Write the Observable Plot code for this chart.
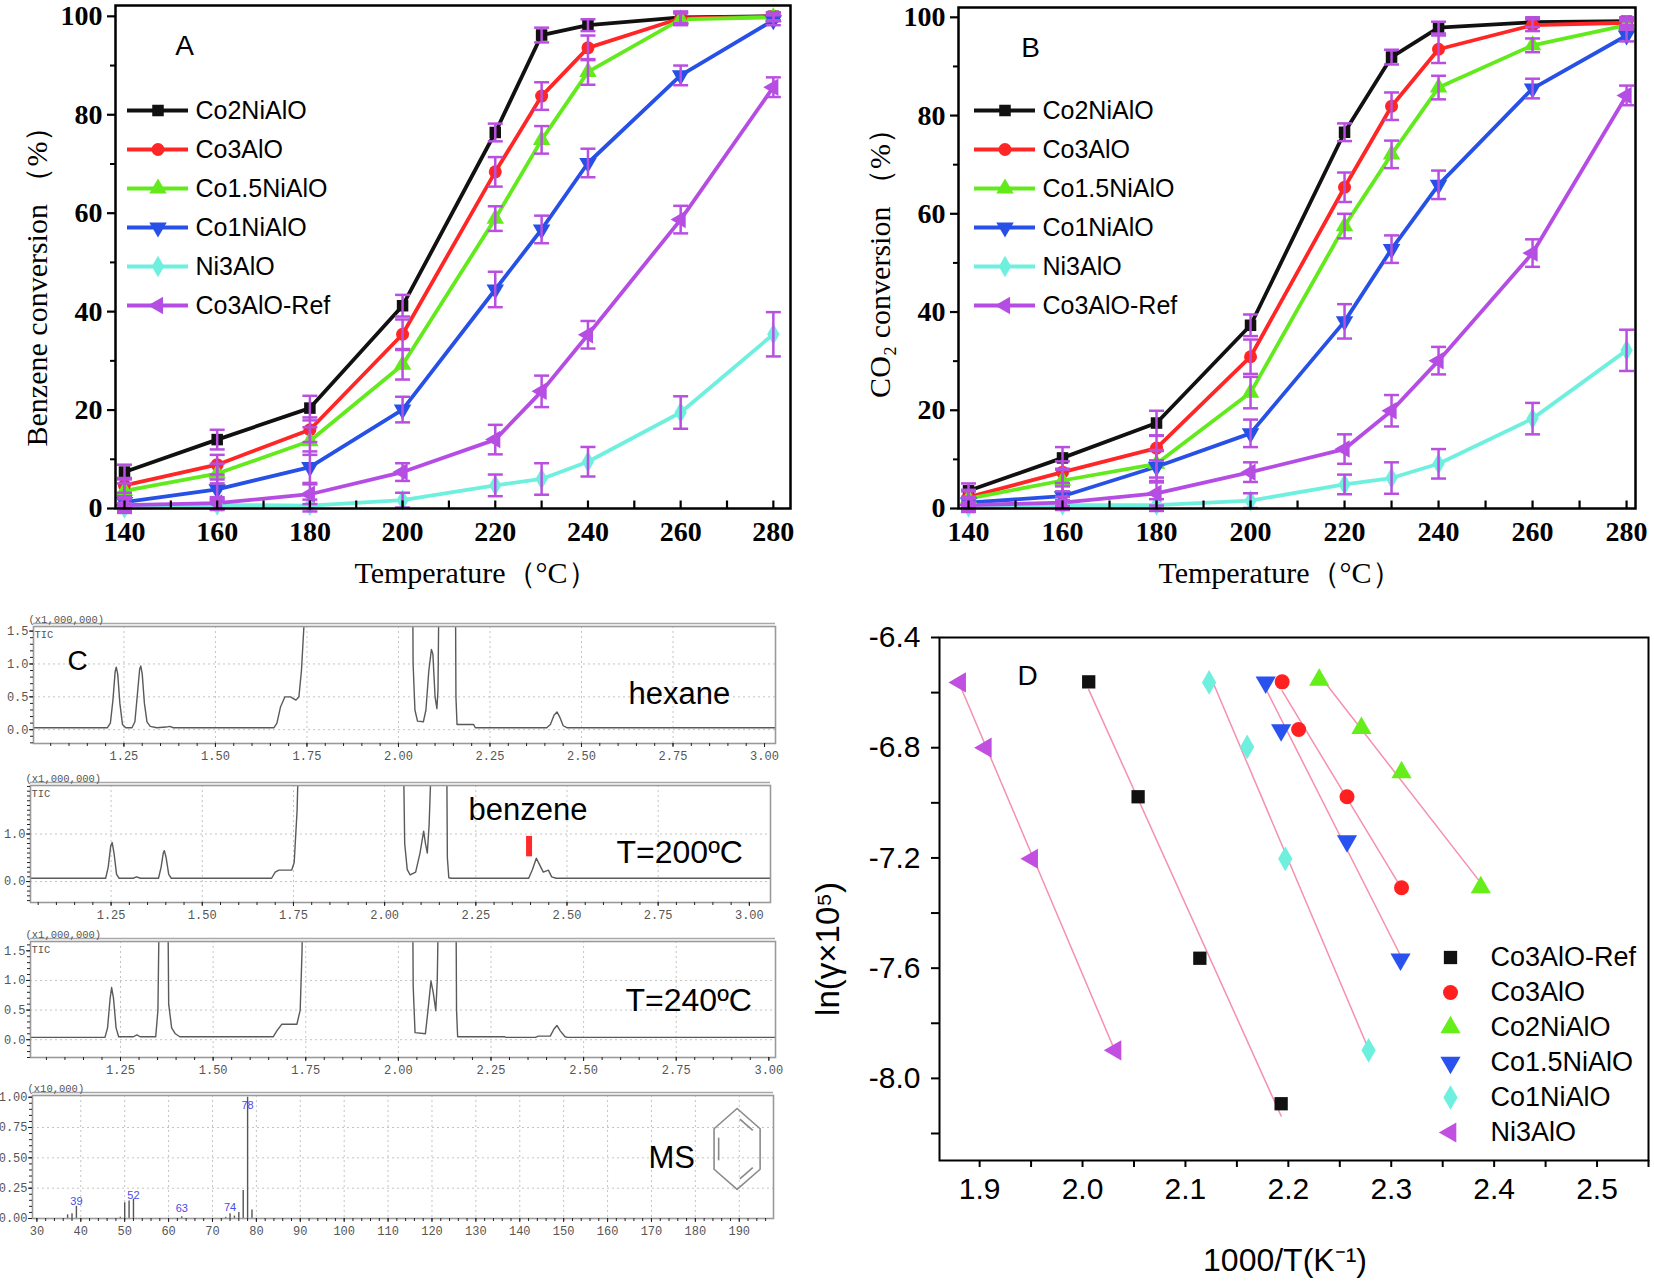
<!DOCTYPE html>
<html><head><meta charset="utf-8">
<script src="https://cdn.jsdelivr.net/npm/d3@7"></script>
<script src="https://cdn.jsdelivr.net/npm/@observablehq/plot@0.6"></script>
<style>
html,body{margin:0;padding:0;background:#fff;}
#fig{position:relative;width:1654px;height:1286px;overflow:hidden;background:#fff;}
#fig svg{position:absolute;overflow:visible;max-width:none;}
</style></head><body><div id="fig"></div>
<script>
// ---------- Panels A / B data ----------
const temps = [140,160,180,200,220,230,240,260,280];
const abNames = ["Co2NiAlO","Co3AlO","Co1.5NiAlO","Co1NiAlO","Ni3AlO","Co3AlO-Ref"];
const abColors = ["#111111","#ff2626","#62ea1c","#2750e6","#6ff0df","#b54de4"];
const errColor = "#b84fe0";

const benzene_Co2NiAlO  = [7.4,14.0,20.4,41.2,76.4,96.2,98.2,99.8,100];
const benzene_Co3AlO    = [4.7,8.9,16.0,35.4,68.4,83.8,93.6,99.6,100];
const benzene_Co15NiAlO = [3.6,7.1,13.7,29.2,58.9,74.9,88.7,99.4,99.8];
const benzene_Co1NiAlO  = [1.3,3.9,8.4,20.1,44.5,56.7,70.2,88.0,99.2];
const benzene_Ni3AlO    = [0.1,0.7,0.6,1.7,4.7,6.0,9.5,19.5,35.4];
const benzene_Co3AlORef = [0.7,1.1,2.9,7.4,14.0,23.8,35.3,58.7,85.6];

const benzeneErr_Co2NiAlO  = [1.5,2.0,2.5,2.2,1.8,1.5,1.2,1.2,0.8];
const benzeneErr_Co3AlO    = [1.5,2.0,2.5,3.0,3.0,2.8,2.5,1.2,0.8];
const benzeneErr_Co15NiAlO = [1.5,2.0,2.8,3.0,2.5,2.8,2.6,1.2,0.8];
const benzeneErr_Co1NiAlO  = [1.2,2.0,3.2,2.6,3.6,2.8,2.9,2.0,1.0];
const benzeneErr_Ni3AlO    = [1.0,1.0,1.2,1.5,2.2,3.2,3.0,3.3,4.5];
const benzeneErr_Co3AlORef = [1.2,1.2,2.0,1.8,3.0,3.2,2.8,2.8,2.0];

const co2_Co2NiAlO  = [3.6,10.3,17.4,37.3,76.6,91.9,97.9,99.0,99.2];
const co2_Co3AlO    = [2.3,7.4,12.3,30.9,65.4,81.9,93.5,98.4,98.9];
const co2_Co15NiAlO = [2.0,5.7,9.1,23.6,57.5,72.1,85.7,94.3,98.4];
const co2_Co1NiAlO  = [1.2,2.5,8.5,15.3,38.1,52.8,65.9,85.5,96.3];
const co2_Ni3AlO    = [0.3,0.7,0.7,1.6,4.9,6.2,9.1,18.3,32.2];
const co2_Co3AlORef = [0.7,1.2,3.1,7.4,12.1,19.9,30.1,52.0,84.1];

const co2Err_Co2NiAlO  = [1.5,2.2,2.5,2.2,1.8,1.5,1.2,1.0,0.8];
const co2Err_Co3AlO    = [1.5,2.2,2.5,3.5,3.0,2.8,2.8,1.2,0.8];
const co2Err_Co15NiAlO = [1.5,2.2,2.8,3.2,2.5,2.8,2.4,1.4,0.8];
const co2Err_Co1NiAlO  = [1.2,2.0,3.2,2.8,3.5,2.8,2.9,2.0,1.2];
const co2Err_Ni3AlO    = [1.0,1.0,1.2,1.5,2.0,3.2,3.0,3.2,4.2];
const co2Err_Co3AlORef = [1.2,1.2,2.5,2.0,3.0,3.2,2.8,2.8,2.0];

const abXTicks = [140,160,180,200,220,240,260,280];
const abXMinor = [150,170,190,210,230,250,270];
const abYTicks = [0,20,40,60,80,100];
const abYMinor = [10,30,50,70,90];

// ---------- Panel D data ----------
const dNames  = ["Co3AlO-Ref","Co3AlO","Co2NiAlO","Co1.5NiAlO","Co1NiAlO","Ni3AlO"];
const dColors = ["#111111","#ff2020","#66ee1a","#2a52ee","#6ff0df","#c14fe0"];
const dX_Co3AlORef = [2.006,2.054,2.114,2.193];
const dY_Co3AlORef = [-6.561,-6.978,-7.564,-8.092];
const dX_Co3AlO    = [2.194,2.210,2.257,2.310];
const dY_Co3AlO    = [-6.561,-6.734,-6.978,-7.308];
const dX_Co2NiAlO  = [2.230,2.271,2.310,2.387];
const dY_Co2NiAlO  = [-6.554,-6.729,-6.890,-7.307];
const dX_Co15NiAlO = [2.178,2.193,2.257,2.309];
const dY_Co15NiAlO = [-6.563,-6.736,-7.139,-7.568];
const dX_Co1NiAlO  = [2.123,2.160,2.197,2.278];
const dY_Co1NiAlO  = [-6.563,-6.797,-7.203,-7.898];
const dX_Ni3AlO    = [1.881,1.906,1.951,2.032];
const dY_Ni3AlO    = [-6.563,-6.800,-7.203,-7.898];
const dXTicks = [1.9,2.0,2.1,2.2,2.3,2.4,2.5];
const dXMinor = [1.95,2.05,2.15,2.25,2.35,2.45,2.55];
const dYTicks = [-6.4,-6.8,-7.2,-7.6,-8.0];
const dYMinor = [-6.6,-7.0,-7.4,-7.8,-8.2];

// ---------- Panel C data (retention time min, intensity x1e6) ----------
const traceHexane = [[1.003,0.03],[1.205,0.03],[1.213,0.1],[1.220,0.45],[1.226,0.88],[1.229,0.95],[1.233,0.85],[1.239,0.4],[1.246,0.08],[1.255,0.03],[1.272,0.03],[1.280,0.12],[1.287,0.55],[1.293,0.92],[1.296,0.97],[1.300,0.85],[1.306,0.4],[1.313,0.12],[1.322,0.05],[1.34,0.03],[1.365,0.04],[1.375,0.05],[1.385,0.03],[1.660,0.03],[1.668,0.1],[1.678,0.35],[1.690,0.5],[1.705,0.5],[1.720,0.45],[1.728,0.5],[1.735,0.9],[1.742,1.6],[1.746,3.0],[2.038,3.0],[2.040,1.0],[2.045,0.3],[2.052,0.13],[2.068,0.12],[2.075,0.3],[2.083,0.9],[2.090,1.22],[2.094,1.15],[2.100,0.5],[2.105,0.32],[2.108,0.6],[2.112,3.0],[2.155,3.0],[2.157,0.5],[2.160,0.08],[2.205,0.08],[2.21,0.03],[2.405,0.03],[2.415,0.08],[2.425,0.22],[2.433,0.27],[2.440,0.2],[2.450,0.06],[2.46,0.03],[3.03,0.03]];
const traceT200 = [[1.029,0.07],[1.235,0.07],[1.242,0.3],[1.249,0.75],[1.253,0.82],[1.258,0.6],[1.265,0.15],[1.272,0.07],[1.31,0.07],[1.32,0.1],[1.33,0.07],[1.38,0.07],[1.387,0.3],[1.393,0.6],[1.396,0.65],[1.401,0.5],[1.408,0.15],[1.415,0.07],[1.690,0.07],[1.700,0.2],[1.71,0.24],[1.745,0.24],[1.752,0.4],[1.760,1.5],[1.765,3.0],[2.051,3.0],[2.055,0.8],[2.062,0.25],[2.07,0.14],[2.085,0.2],[2.097,0.6],[2.107,1.06],[2.112,0.8],[2.117,0.6],[2.122,1.2],[2.13,3.0],[2.170,3.0],[2.172,0.5],[2.176,0.08],[2.183,0.07],[2.395,0.07],[2.405,0.25],[2.416,0.49],[2.425,0.35],[2.435,0.2],[2.449,0.24],[2.458,0.1],[2.47,0.07],[3.058,0.07]];
const traceT240 = [[1.007,0.04],[1.208,0.04],[1.215,0.2],[1.222,0.7],[1.226,0.88],[1.231,0.7],[1.238,0.2],[1.245,0.05],[1.285,0.05],[1.294,0.08],[1.303,0.05],[1.345,0.05],[1.351,0.5],[1.356,3.0],[1.377,3.0],[1.380,0.6],[1.388,0.2],[1.398,0.1],[1.41,0.05],[1.662,0.05],[1.672,0.15],[1.685,0.26],[1.726,0.26],[1.735,0.5],[1.740,1.5],[1.743,3.0],[2.038,3.0],[2.040,0.9],[2.045,0.12],[2.073,0.1],[2.080,0.5],[2.088,0.99],[2.094,0.8],[2.101,0.49],[2.105,1.0],[2.110,3.0],[2.155,3.0],[2.157,0.5],[2.160,0.05],[2.287,0.05],[2.29,0.04],[2.37,0.04],[2.378,0.06],[2.41,0.06],[2.42,0.18],[2.428,0.24],[2.437,0.15],[2.45,0.05],[2.457,0.04],[3.018,0.04]];
const benzeneMarkX = [2.396];
const benzeneMarkY = [0.52, 0.95];
const chromXTicks = [1.25,1.5,1.75,2.0,2.25,2.5,2.75,3.0];
const msMz  = [37,38,39,49,50,51,52,63,73,74,75,76,77,78,79];
const msInt = [0.03,0.04,0.10,0.01,0.13,0.145,0.16,0.014,0.01,0.04,0.02,0.05,0.23,1.0,0.07];
const msLabelMz = [39,52,63,74,78];
const msLabelY  = [0.14,0.19,0.08,0.09,0.93];
const msXTicks = [30,40,50,60,70,80,90,100,110,120,130,140,150,160,170,180,190];
const msYTicks = [0,0.25,0.5,0.75,1.0];
// benzene ring glyph (unit hexagon, pointy top)
const ringX = [0,0.866,0.866,0,-0.866,-0.866,0];
const ringY = [1,0.5,-0.5,-1,-0.5,0.5,1];
const bondX1 = [0.104,0.589,-0.693], bondY1 = [0.74,-0.46,-0.28];
const bondX2 = [0.589,0.104,-0.693], bondY2 = [0.46,-0.74,0.28];

// ---------- helpers ----------
const sans = "'Liberation Sans', Arial, Helvetica, sans-serif";
const serif = "'Liberation Serif', 'Times New Roman', serif";
const mono = "'Liberation Mono', 'DejaVu Sans Mono', monospace";
const sqrt3 = Math.sqrt(3);
const symDown = {draw(ctx, size){ const y = -Math.sqrt(size/(sqrt3*3)); ctx.moveTo(0,-y*2); ctx.lineTo(-sqrt3*y, y); ctx.lineTo(sqrt3*y, y); ctx.closePath(); }};
const symLeft = {draw(ctx, size){ const y = -Math.sqrt(size/(sqrt3*3)); ctx.moveTo(y*2,0); ctx.lineTo(-y,-sqrt3*y); ctx.lineTo(-y, sqrt3*y); ctx.closePath(); }};
const symCap  = {draw(ctx){ ctx.moveTo(-7.5,0); ctx.lineTo(7.5,0); }};
const symTickUp = {draw(ctx){ ctx.moveTo(0,0); ctx.lineTo(0,-8); }};
const abSymbols = [d3.symbolSquare, d3.symbolCircle, d3.symbolTriangle, symDown, d3.symbolDiamond, symLeft];
const dSymbols  = [d3.symbolSquare, d3.symbolCircle, d3.symbolTriangle, symDown, d3.symbolDiamond, symLeft];
const abSym = s => abSymbols[abNames.indexOf(s)];
const dSym = s => dSymbols[dNames.indexOf(s)];

const fig = document.getElementById("fig");
function place(svg, left, top){ svg.style.left = left + "px"; svg.style.top = top + "px"; fig.appendChild(svg); }
const baseStyle = {background: "transparent", overflow: "visible"};

function makeRows(vals, errs){
  const rows = [];
  abNames.forEach((s,i) => temps.forEach((t,j) => rows.push({s, t, v: vals[i][j], e: errs[i][j]})));
  return rows;
}
const rowsA = makeRows([benzene_Co2NiAlO,benzene_Co3AlO,benzene_Co15NiAlO,benzene_Co1NiAlO,benzene_Ni3AlO,benzene_Co3AlORef],
  [benzeneErr_Co2NiAlO,benzeneErr_Co3AlO,benzeneErr_Co15NiAlO,benzeneErr_Co1NiAlO,benzeneErr_Ni3AlO,benzeneErr_Co3AlORef]);
const rowsB = makeRows([co2_Co2NiAlO,co2_Co3AlO,co2_Co15NiAlO,co2_Co1NiAlO,co2_Ni3AlO,co2_Co3AlORef],
  [co2Err_Co2NiAlO,co2Err_Co3AlO,co2Err_Co15NiAlO,co2Err_Co1NiAlO,co2Err_Ni3AlO,co2Err_Co3AlORef]);

function conversionPanel(o){
  const rows = o.rows;
  return Plot.plot({
    width: o.width, height: 600,
    marginLeft: 115, marginRight: o.marginRight, marginTop: o.marginTop, marginBottom: 92,
    x: {domain: o.xDomain}, y: {domain: o.yDomain},
    color: {domain: abNames, range: abColors},
    style: baseStyle,
    marks: [
      Plot.line(rows, {x: "t", y: "v", z: "s", stroke: "s", strokeWidth: 3.8}),
      Plot.dot(rows, {x: "t", y: "v", symbol: d => abSym(d.s), fill: "s", r: 6.5}),
      Plot.ruleX(rows, {x: "t", y1: d => d.v - d.e, y2: d => d.v + d.e, stroke: errColor, strokeWidth: 2.5}),
      Plot.dot(rows, {x: "t", y: d => d.v + d.e, symbol: symCap, stroke: errColor, strokeWidth: 2.5, fill: "none"}),
      Plot.dot(rows, {x: "t", y: d => d.v - d.e, symbol: symCap, stroke: errColor, strokeWidth: 2.5, fill: "none"}),
      Plot.frame({stroke: "#000", strokeWidth: 2.5}),
      Plot.axisY({ticks: abYTicks, tickSize: 8, tickPadding: 5, tickFormat: d => String(d), fontSize: 28, fontWeight: "bold", fontFamily: serif, strokeWidth: 2.2, label: null}),
      Plot.axisY({ticks: abYMinor, tickSize: 5, tickFormat: () => "", strokeWidth: 2, label: null}),
      Plot.axisX({ticks: abXTicks, tickSize: 0, tickPadding: 13, tickFormat: d => String(d), fontSize: 28, fontWeight: "bold", fontFamily: serif, label: null}),
      Plot.dot(abXTicks.concat(abXMinor), {x: d => d, y: o.yDomain[0], symbol: symTickUp, stroke: "#000", strokeWidth: 2.2, fill: "none"}),
      Plot.text([o.ylabel], {frameAnchor: "left", dx: -78, dy: o.ylabelDy, rotate: -90, textAnchor: "middle", lineAnchor: "middle", fontSize: 30, fontFamily: serif, text: d => d}),
      Plot.text(["Temperature（°C）"], {frameAnchor: "bottom", dx: o.xlabelDx, dy: 65, textAnchor: "middle", lineAnchor: "middle", fontSize: 30, fontFamily: serif, text: d => d}),
      Plot.text([o.letter], {frameAnchor: "top-left", dx: o.letterDx, dy: 41, textAnchor: "middle", lineAnchor: "middle", fontSize: 28, fontFamily: sans, text: d => d})
    ]
  });
}

function legendAB(){
  return Plot.plot({
    width: 300, height: 236, margin: 0,
    x: {domain: [0,1], range: [7,68], axis: null},
    y: {type: "point", domain: abNames, range: [20,216], padding: 0, axis: null},
    color: {domain: abNames, range: abColors},
    style: baseStyle,
    marks: [
      Plot.ruleY(abNames, {y: d => d, x1: 0, x2: 1, stroke: d => d, strokeWidth: 3.8}),
      Plot.dot(abNames, {x: 0.5, y: d => d, symbol: d => abSym(d), fill: d => d, r: 6.5}),
      Plot.text(abNames, {x: 1, y: d => d, text: d => d, dx: 7, textAnchor: "start", lineAnchor: "middle", fontSize: 25, fontFamily: sans, fill: "#000"})
    ]
  });
}

place(conversionPanel({rows: rowsA, width: 805, marginRight: 15, marginTop: 5, xDomain: [138.06, 283.7], yDomain: [0, 102.2],
  ylabel: "Benzene conversion （%）", ylabelDy: 22, xlabelDx: 23, letter: "A", letterDx: 69}), 0, 0);
place(legendAB(), 120, 89);

place(conversionPanel({rows: rowsB, width: 811, marginRight: 19, marginTop: 7, xDomain: [137.87, 281.9], yDomain: [0, 102.0],
  ylabel: "CO₂ conversion （%）", ylabelDy: -2, xlabelDx: -17, letter: "B", letterDx: 72}), 843, 0);
place(legendAB(), 967, 89);

// ---------- Panel D ----------
const dXs = [dX_Co3AlORef,dX_Co3AlO,dX_Co2NiAlO,dX_Co15NiAlO,dX_Co1NiAlO,dX_Ni3AlO];
const dYs = [dY_Co3AlORef,dY_Co3AlO,dY_Co2NiAlO,dY_Co15NiAlO,dY_Co1NiAlO,dY_Ni3AlO];
const dRows = [];
dNames.forEach((s,i) => dXs[i].forEach((x,j) => dRows.push({s, x, y: dYs[i][j]})));

place(Plot.plot({
  width: 824, height: 686, marginLeft: 109, marginRight: 6, marginTop: 37, marginBottom: 126,
  x: {domain: [1.861, 2.55]}, y: {domain: [-8.298, -6.4]},
  color: {domain: dNames, range: dColors},
  style: baseStyle,
  marks: [
    Plot.linearRegressionY(dRows, {x: "x", y: "y", z: "s", stroke: "#f590b0", strokeWidth: 1.5, ci: 0}),
    Plot.dot(dRows, {x: "x", y: "y", symbol: d => dSym(d.s), fill: "s", r: 7.5}),
    Plot.frame({stroke: "#000", strokeWidth: 2}),
    Plot.axisX({ticks: dXTicks, tickSize: 7, tickPadding: 10, tickFormat: d => d.toFixed(1), fontSize: 30, fontFamily: sans, strokeWidth: 2, label: null}),
    Plot.axisX({ticks: dXMinor, tickSize: 7, tickFormat: () => "", strokeWidth: 2, label: null}),
    Plot.axisY({ticks: dYTicks, tickSize: 8, tickPadding: 11, tickFormat: d => d.toFixed(1), fontSize: 30, fontFamily: sans, strokeWidth: 2, label: null}),
    Plot.axisY({ticks: dYMinor, tickSize: 8, tickFormat: () => "", strokeWidth: 2, label: null}),
    Plot.text(["ln(γ×10⁵)"], {frameAnchor: "left", dx: -111, dy: 50, rotate: -90, textAnchor: "middle", lineAnchor: "middle", fontSize: 33, fontFamily: sans, text: d => d}),
    Plot.text(["1000/T(K⁻¹)"], {frameAnchor: "bottom", dx: -9, dy: 100, textAnchor: "middle", lineAnchor: "middle", fontSize: 32, fontFamily: sans, text: d => d}),
    Plot.text(["D"], {frameAnchor: "top-left", dx: 88, dy: 39, textAnchor: "middle", lineAnchor: "middle", fontSize: 28, fontFamily: sans, text: d => d})
  ]
}), 830, 600);

place(Plot.plot({
  width: 224, height: 220, margin: 0,
  x: {domain: [0,1], range: [20,60], axis: null},
  y: {type: "point", domain: dNames, range: [22,197], padding: 0, axis: null},
  color: {domain: dNames, range: dColors},
  style: baseStyle,
  marks: [
    Plot.dot(dNames, {x: 0, y: d => d, symbol: d => dSym(d), fill: d => d, r: 7.5}),
    Plot.text(dNames, {x: 1, y: d => d, text: d => d, textAnchor: "start", lineAnchor: "middle", fontSize: 27, fontFamily: sans, fill: "#000"})
  ]
}), 1430, 935);

// ---------- Panel C ----------
function chromPanel(o){
  const marks = [
    Plot.ruleX(o.xGrid, {stroke: "#c4c4c4", strokeDasharray: "2,3", strokeWidth: 1}),
    Plot.ruleY(o.yGrid, {stroke: "#c4c4c4", strokeDasharray: "2,3", strokeWidth: 1}),
    ...o.dataMarks,
    Plot.frame({stroke: "#9a9a9a", strokeWidth: 1.6}),
    Plot.ruleY([o.yDomain[1]], {dy: -3, stroke: "#a8a8a8", strokeWidth: 1.4}),
    Plot.axisX({ticks: o.xTicks, tickSize: 4, tickPadding: 4, tickFormat: o.xFormat, fontSize: 12, fontFamily: mono, fill: "#555", stroke: "#222", label: null}),
    Plot.axisX({ticks: o.xMinor, tickSize: 3, tickFormat: () => "", stroke: "#222", label: null}),
    Plot.axisY({ticks: o.yTicks, tickSize: 4, tickPadding: 1, tickFormat: o.yFormat, fontSize: 12, fontFamily: mono, fill: "#555", stroke: "#222", label: null}),
    Plot.axisY({ticks: o.yMinor, tickSize: 3, tickFormat: () => "", stroke: "#222", label: null}),
    Plot.text([o.scaleLabel], {frameAnchor: "top-left", dx: -5, dy: -7, textAnchor: "start", lineAnchor: "middle", fontSize: 10.5, fontFamily: mono, fill: "#555", text: d => d})
  ];
  if (o.tic) marks.push(Plot.text(["TIC"], {frameAnchor: "top-left", dx: 1, dy: 8, textAnchor: "start", lineAnchor: "middle", fontSize: 10.5, fontFamily: mono, fill: "#555", text: d => d}));
  for (const n of o.notes) marks.push(Plot.text([n.text], {frameAnchor: "top-left", dx: n.dx, dy: n.dy, textAnchor: n.anchor || "start", lineAnchor: "middle", fontSize: n.size, fontFamily: sans, fill: "#000", text: d => d}));
  return Plot.plot({
    width: 790, height: o.height, marginLeft: o.marginLeft, marginRight: o.marginRight, marginTop: o.marginTop, marginBottom: o.marginBottom,
    x: {domain: o.xDomain}, y: {domain: o.yDomain}, style: baseStyle, marks
  });
}
const f2 = d => d.toFixed(2), f1 = d => d.toFixed(1);
const traceLine = tr => Plot.line(tr, {x: d => d[0], y: d => d[1], stroke: "#5a5a5a", strokeWidth: 1.4, clip: true});

place(chromPanel({height: 170, marginTop: 21, marginBottom: 32, marginLeft: 33, marginRight: 15,
  xDomain: [1.003, 3.03], yDomain: [-0.21, 1.57],
  xTicks: chromXTicks, xMinor: d3.range(1.05, 3.02, 0.05), xGrid: chromXTicks.slice(0,7), xFormat: f2,
  yTicks: [0,0.5,1.0,1.5], yMinor: d3.range(-0.2, 1.56, 0.1), yGrid: [0,0.5,1.0], yFormat: f1,
  dataMarks: [traceLine(traceHexane)], scaleLabel: "(x1,000,000)", tic: true,
  notes: [{text: "C", dx: 44, dy: 35, size: 28, anchor: "middle"}, {text: "hexane", dx: 595, dy: 68, size: 31}]}), 0, 605);

place(chromPanel({height: 165, marginTop: 20, marginBottom: 28, marginLeft: 30, marginRight: 20,
  xDomain: [1.029, 3.058], yDomain: [-0.44, 2.02],
  xTicks: chromXTicks, xMinor: d3.range(1.05, 3.05, 0.05), xGrid: chromXTicks.slice(0,7), xFormat: f2,
  yTicks: [0,1.0], yMinor: d3.range(-0.4, 2.01, 0.1), yGrid: [0,1.0], yFormat: f1,
  dataMarks: [traceLine(traceT200), Plot.ruleX(benzeneMarkX, {x: d => d, y1: benzeneMarkY[0], y2: benzeneMarkY[1], stroke: "#ff2a2a", strokeWidth: 6})],
  scaleLabel: "(x1,000,000)", tic: true,
  notes: [{text: "benzene", dx: 438, dy: 25, size: 31}, {text: "T=200ºC", dx: 586, dy: 67, size: 32}]}), 0, 765);

place(chromPanel({height: 165, marginTop: 21, marginBottom: 28, marginLeft: 30, marginRight: 15,
  xDomain: [1.007, 3.018], yDomain: [-0.30, 1.657],
  xTicks: chromXTicks, xMinor: d3.range(1.05, 3.02, 0.05), xGrid: chromXTicks.slice(0,7), xFormat: f2,
  yTicks: [0,0.5,1.0,1.5], yMinor: d3.range(-0.3, 1.65, 0.1), yGrid: [0,0.5,1.0], yFormat: f1,
  dataMarks: [traceLine(traceT240)], scaleLabel: "(x1,000,000)", tic: true,
  notes: [{text: "T=240ºC", dx: 595, dy: 59, size: 32}]}), 0, 920);

const msRows = msMz.map((m,i) => ({m, v: msInt[i]}));
const msLab = msLabelMz.map((m,i) => ({m, y: msLabelY[i]}));
place(chromPanel({height: 175, marginTop: 20, marginBottom: 32, marginLeft: 32, marginRight: 17,
  xDomain: [29, 197.8], yDomain: [0, 1.014],
  xTicks: msXTicks, xMinor: d3.range(30, 198, 2), xGrid: msXTicks.slice(1), xFormat: d => String(d),
  yTicks: msYTicks, yMinor: d3.range(0, 1.01, 0.05), yGrid: [0.25,0.5,0.75], yFormat: f2,
  dataMarks: [
    Plot.ruleX(msRows, {x: "m", y1: 0, y2: "v", stroke: "#555", strokeWidth: 1.4}),
    Plot.text(msLab, {x: "m", y: "y", text: d => String(d.m), fill: "#4b4be8", fontSize: 11, fontFamily: sans})
  ],
  scaleLabel: "(x10,000)", tic: false,
  notes: [{text: "MS", dx: 616, dy: 63, size: 31}]}), 0, 1075);

// benzene ring glyph
const ringPts = ringX.map((x,i) => ({x, y: ringY[i]}));
const bonds = bondX1.map((x,i) => ({x1: x, y1: bondY1[i], x2: bondX2[i], y2: bondY2[i]}));
place(Plot.plot({
  width: 53.2, height: 81, margin: 0,
  x: {domain: [-1,1], axis: null}, y: {domain: [-1,1], axis: null}, style: baseStyle,
  marks: [
    Plot.line(ringPts, {x: "x", y: "y", stroke: "#8a8a8a", strokeWidth: 1.6}),
    Plot.link(bonds, {x1: "x1", y1: "y1", x2: "x2", y2: "y2", stroke: "#8a8a8a", strokeWidth: 1.6})
  ]
}), 710, 1108);
</script></body></html>
